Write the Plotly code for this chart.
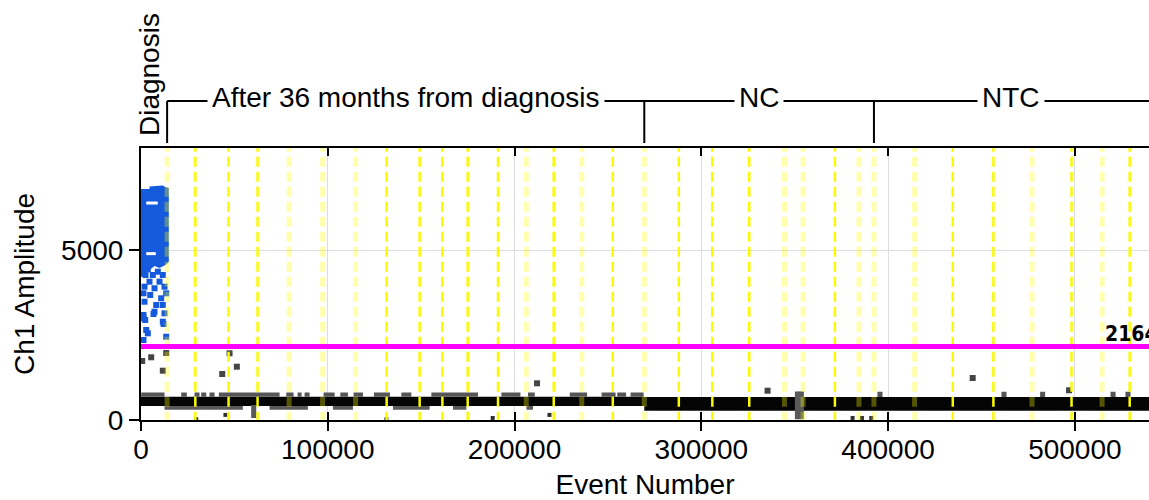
import plotly.graph_objects as go

# ------------------------- data -------------------------
threshold = 2164
x_max = 539700
y_max = 8000
x_ticks = [0, 100000, 200000, 300000, 400000, 500000]
x_tick_labels = ["0", "100000", "200000", "300000", "400000", "500000"]
y_ticks = [0, 5000]
y_tick_labels = ["0", "5000"]

# well boundaries (event number)
well_bounds_bright = [29090, 46880, 62410, 131520, 149200, 161360, 174920, 191150,
                      220990, 252600, 287950, 305900, 325670, 371530, 434640,
                      456390, 498230, 529360]
well_bounds_pale = [13980, 79290, 97240, 114920, 206260, 235990, 269470, 344530,
                    354490, 384390, 392430, 414180, 477070, 514570]

# sample sections shown above the plot
diagnosis_well = [0, 13980]
section_labels = ["After 36 months from diagnosis", "NC", "NTC"]
section_starts = [13980, 269470, 392430]
section_ends = [269470, 392430, 539700]

# positive droplets (Ch1) - dense cluster outline
pos_core_x = [0, 4550, 4550, 11520, 13130, 14890, 14890, 13130, 9910, 7230, 4550, 2410, 0]
pos_core_y = [6794, 6794, 6868, 6897, 6853, 6824, 4647, 4559, 4471, 4529, 4412, 4235, 4206]
# positive droplets - individual, scattered below the cluster
pos_x = [960, 3640, 2410, 6320, 9000, 11680, 4550, 9910, 1880, 7230, 12590, 1340, 4930,
         10820, 13500, 11680, 1880, 7230, 1340, 12590, 11680, 2790, 3640, 13500, 1340,
         1340, 6700, 12060, 2250, 8140]
pos_y = [4362, 4432, 4265, 4265, 4362, 4265, 4068, 4068, 3921, 3874, 3921, 3726, 3676,
         3579, 3726, 3382, 3479, 3185, 2991, 3138, 2891, 2647, 2550, 2450, 2353,
         3088, 3118, 2824, 2941, 3382]
# empty streaks inside the positive cluster
core_gap_x0 = [2790, 2790]
core_gap_x1 = [9000, 7910]
core_gap_y = [6382, 4893]

# negative droplets - dense band
neg_band_x0 = [0, 269470]
neg_band_x1 = [269470, 539700]
neg_band_lo = [412, 270]
neg_band_hi = [685, 680]
# upper fringe of the band (left part)
fringe_top_x0 = [100, 21540, 28660, 32250, 36700, 41680, 77790, 83840, 87590, 97770,
                 106720, 113840, 124730, 139400, 155470, 192970, 207220, 229560,
                 246600, 255010, 262140]
fringe_top_x1 = [12590, 24540, 31340, 34930, 39380, 74200, 81700, 85990, 90270, 103660,
                 110790, 118830, 133300, 144760, 180430, 203150, 210810, 238830,
                 254100, 259720, 269100]
fringe_top_lo = 685
fringe_top_hi = 810
# lower fringe of the band (left part)
fringe_bot_x0 = [12590, 68840, 102760, 134900, 167050, 206360]
fringe_bot_x1 = [54540, 89360, 113470, 154560, 174220, 209900]
fringe_bot_lo = 300
fringe_bot_hi = 412
# small droplet bumps on top of the band (right part)
bump_x0 = [351200, 394300, 460700, 481400, 519100, 527100]
bump_x1 = [353900, 397000, 463400, 484100, 521800, 529800]
bump_lo = 676
bump_hi = 830
# vertical smears of droplets
smear_x0 = [59000, 350100]
smear_x1 = [61700, 354900]
smear_lo = [60, 20]
smear_hi = [440, 840]
# isolated negative droplets
neg_out_x = [640, 5460, 11680, 13500, 43500, 47410, 51320, 212050, 335480, 445300, 496900]
neg_out_y = [1735, 1844, 1450, 1971, 1353, 1962, 1568, 1079, 862, 1235, 874]
low_x = [29570, 45200, 131400, 188300, 218700, 381000, 386000, 391000]
low_y = [20, 150, 20, 60, 150, 60, 60, 60]

# ------------------------- helpers -------------------------
def rects(x0s, x1s, los, his):
    xs, ys = [], []
    for i in range(len(x0s)):
        lo = los[i] if isinstance(los, list) else los
        hi = his[i] if isinstance(his, list) else his
        xs += [x0s[i], x1s[i], x1s[i], x0s[i], x0s[i], None]
        ys += [lo, lo, hi, hi, lo, None]
    return xs, ys

def vlines(xs_in, top, bottom):
    xs, ys = [], []
    for v in xs_in:
        xs += [v, v, None]
        ys += [top, bottom, None]
    return xs, ys

BLUE = "#1559dc"
FONT = "Liberation Sans, Arial, sans-serif"

fig = go.Figure()

def add_rects(x0s, x1s, lo, hi, color):
    xs, ys = rects(x0s, x1s, lo, hi)
    fig.add_trace(go.Scatter(x=xs, y=ys, mode="lines", fill="toself", fillcolor=color,
                             line=dict(width=0, color=color), hoverinfo="skip"))

add_rects(neg_band_x0, neg_band_x1, neg_band_lo, neg_band_hi, "#050505")
add_rects(fringe_top_x0, fringe_top_x1, fringe_top_lo, fringe_top_hi, "#555555")
add_rects(fringe_bot_x0, fringe_bot_x1, fringe_bot_lo, fringe_bot_hi, "#5a5a5a")
add_rects(bump_x0, bump_x1, bump_lo, bump_hi, "#555555")
add_rects(smear_x0, smear_x1, smear_lo, smear_hi, "#5a5a5a")

fig.add_trace(go.Scatter(x=neg_out_x, y=neg_out_y, mode="markers",
                         marker=dict(symbol="square", size=6, color="#454545", line=dict(width=0))))
fig.add_trace(go.Scatter(x=low_x, y=low_y, mode="markers",
                         marker=dict(symbol="square", size=4, color="#303030", line=dict(width=0))))

# positive cluster
fig.add_trace(go.Scatter(x=pos_core_x, y=pos_core_y, mode="lines", fill="toself",
                         fillcolor=BLUE, line=dict(width=0, color=BLUE)))
fig.add_trace(go.Scatter(x=pos_x, y=pos_y, mode="markers",
                         marker=dict(symbol="square", size=6, color=BLUE, line=dict(width=0))))
gx, gy = [], []
for a, b, c in zip(core_gap_x0, core_gap_x1, core_gap_y):
    gx += [a, b, None]
    gy += [c, c, None]
fig.add_trace(go.Scatter(x=gx, y=gy, mode="lines", line=dict(color="white", width=3)))

# well boundaries
dash_top = 8185
px_, py_ = vlines(well_bounds_pale, dash_top, 0)
fig.add_trace(go.Scatter(x=px_, y=py_, mode="lines",
                         line=dict(color="rgba(255,255,0,0.32)", width=5, dash="10px,5px")))
bx_, by_ = vlines(well_bounds_bright, dash_top, 0)
fig.add_trace(go.Scatter(x=bx_, y=by_, mode="lines",
                         line=dict(color="#fafa00", width=2.5, dash="10px,5px")))

# threshold
fig.add_trace(go.Scatter(x=[0, x_max], y=[threshold, threshold], mode="lines",
                         line=dict(color="#ff00ff", width=5)))

# dummy trace for the overlay axis with outside ticks
fig.add_trace(go.Scatter(x=[0], y=[0], xaxis="x2", mode="markers",
                         marker=dict(opacity=0), hoverinfo="skip"))

fig.add_annotation(x=515100, y=threshold, xref="x", yref="y", text=str(threshold),
                   showarrow=False, xanchor="left", yanchor="bottom", yshift=-2,
                   font=dict(family="DejaVu Sans Condensed, DejaVu Sans", size=21,
                             color="black", weight="bold"))

# section brackets
LINE_Y = 1.1728
TICK_Y = 1.0184
fig.add_shape(type="line", xref="x", yref="paper", x0=section_starts[0], x1=x_max,
              y0=LINE_Y, y1=LINE_Y, line=dict(color="black", width=2))
for s in section_starts:
    fig.add_shape(type="line", xref="x", yref="paper", x0=s, x1=s, y0=LINE_Y, y1=TICK_Y,
                  line=dict(color="black", width=2))
for lab, s, e in zip(section_labels, section_starts, section_ends):
    fig.add_annotation(x=(s + e) / 2, y=LINE_Y, xref="x", yref="paper", text=lab,
                       showarrow=False, xanchor="center", yanchor="middle", yshift=3,
                       bgcolor="white", borderpad=4,
                       font=dict(family=FONT, size=28, color="black"))
fig.add_annotation(x=sum(diagnosis_well) / 2, y=1.2684, xref="x", yref="paper",
                   text="Diagnosis", textangle=-90, showarrow=False, xshift=-4,
                   xanchor="center", yanchor="middle",
                   font=dict(family=FONT, size=28, color="black"))

fig.update_layout(
    width=1149, height=500,
    margin=dict(l=141, r=0, t=148, b=80),
    paper_bgcolor="white", plot_bgcolor="white",
    showlegend=False,
    font=dict(family=FONT, size=28, color="black"),
    xaxis=dict(range=[0, x_max], tickvals=x_ticks, ticktext=x_tick_labels,
               showline=True, linecolor="black", linewidth=2, mirror="ticks",
               ticks="inside", ticklen=8, tickwidth=2, tickcolor="black",
               showgrid=True, gridcolor="#dcdce4", gridwidth=1, zeroline=False,
               ticklabelstandoff=3,
               title=dict(text="Event Number", standoff=14,
                          font=dict(family=FONT, size=28, color="black")),
               tickfont=dict(family=FONT, size=28, color="black")),
    xaxis2=dict(range=[0, x_max], overlaying="x", anchor="y", side="bottom",
                tickvals=x_ticks, showticklabels=False, ticks="outside", ticklen=10,
                tickwidth=2, tickcolor="black", showline=False, showgrid=False,
                zeroline=False),
    yaxis=dict(range=[0, y_max], tickvals=y_ticks, ticktext=y_tick_labels,
               showline=True, linecolor="black", linewidth=2, mirror=False,
               ticks="outside", ticklen=10, tickwidth=2, tickcolor="black",
               showgrid=True, gridcolor="#dcdce4", gridwidth=1, zeroline=False,
               title=dict(text="Ch1 Amplitude", standoff=18,
                          font=dict(family=FONT, size=28, color="black")),
               tickfont=dict(family=FONT, size=28, color="black")),
)

fig.write_html("out.html", config={"displayModeBar": False},
               post_script="document.body.style.margin='0';")
